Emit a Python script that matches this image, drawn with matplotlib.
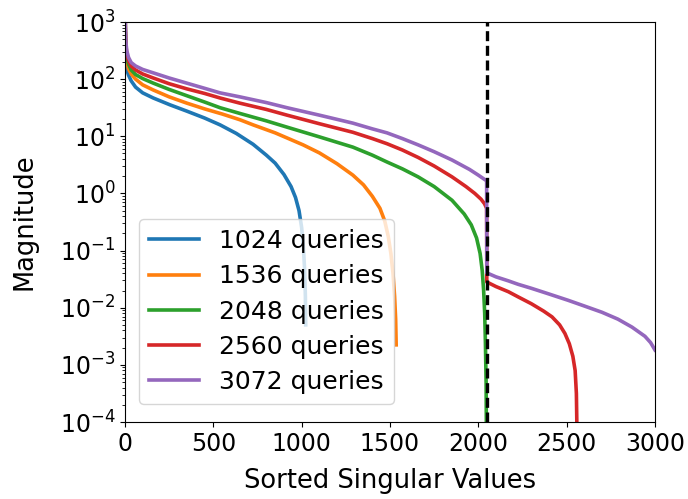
import matplotlib
matplotlib.use("Agg")
import numpy as np
import matplotlib.pyplot as plt

# singular values, kept as log10(magnitude)
x_1024 = [0, 2, 5, 10, 20, 35, 60, 100, 160, 255, 350, 450, 538, 630, 725,
          800, 850, 900, 940, 965, 985, 1000, 1010, 1017, 1021, 1023]
log_1024 = [3.3, 2.7, 2.35, 2.17, 2.07, 1.97, 1.86, 1.76, 1.67, 1.55, 1.44,
            1.32, 1.20, 1.05, 0.86, 0.67, 0.53, 0.33, 0.12, -0.07, -0.3,
            -0.6, -0.95, -1.35, -1.8, -2.3]

x_1536 = [0, 2, 5, 10, 20, 35, 60, 100, 160, 250, 350, 450, 550, 650, 725,
          850, 1008, 1100, 1200, 1290, 1350, 1400, 1443, 1470, 1490, 1505,
          1517, 1526, 1532, 1535]
log_1536 = [3.3, 2.8, 2.47, 2.3, 2.18, 2.09, 2.0, 1.9, 1.81, 1.69, 1.58,
            1.48, 1.39, 1.29, 1.20, 1.06, 0.85, 0.71, 0.52, 0.32, 0.15,
            -0.05, -0.26, -0.48, -0.75, -1.05, -1.4, -1.8, -2.2, -2.65]

x_2048 = [0, 2, 5, 10, 20, 35, 60, 100, 160, 250, 350, 450, 538, 650, 800,
          917, 1100, 1290, 1400, 1483, 1570, 1659, 1750, 1851, 1920, 1960,
          1990, 2010, 2022, 2030, 2036, 2040, 2044, 2047]
log_2048 = [3.3, 2.85, 2.55, 2.38, 2.26, 2.16, 2.08, 2.01, 1.93, 1.82, 1.71,
            1.60, 1.50, 1.40, 1.27, 1.16, 0.99, 0.81, 0.67, 0.55, 0.43, 0.29,
            0.12, -0.12, -0.36, -0.55, -0.78, -1.05, -1.35, -1.7, -2.1, -2.6,
            -3.3, -5.0]

x_2560 = [0, 2, 5, 10, 20, 35, 60, 100, 160, 250, 350, 450, 538, 650, 800,
          917, 1100, 1290, 1400, 1483, 1570, 1659, 1750, 1851, 1930, 1980,
          2015, 2035, 2047, 2048, 2100, 2170, 2225, 2300, 2370, 2417, 2460,
          2490, 2515, 2535, 2548, 2555, 2559]
log_2560 = [3.3, 2.9, 2.6, 2.44, 2.32, 2.23, 2.16, 2.09, 2.02, 1.92, 1.83,
            1.75, 1.67, 1.58, 1.47, 1.37, 1.22, 1.07, 0.96, 0.87, 0.76, 0.63,
            0.48, 0.29, 0.12, 0.0, -0.1, -0.18, -0.26, -1.55, -1.63, -1.72,
            -1.81, -1.93, -2.06, -2.16, -2.3, -2.45, -2.63, -2.85, -3.1,
            -3.5, -4.3]

x_3072 = [0, 2, 5, 10, 20, 35, 60, 100, 160, 250, 350, 450, 538, 650, 800,
          917, 1100, 1290, 1400, 1483, 1570, 1659, 1750, 1851, 1950, 2000,
          2047, 2048, 2100, 2170, 2225, 2300, 2400, 2508, 2600, 2700, 2790,
          2870, 2943, 2975, 3000]
log_3072 = [3.3, 2.95, 2.65, 2.5, 2.38, 2.29, 2.23, 2.17, 2.11, 2.02, 1.93,
            1.84, 1.76, 1.69, 1.59, 1.50, 1.37, 1.23, 1.13, 1.06, 0.96, 0.85,
            0.73, 0.585, 0.42, 0.32, 0.22, -1.39, -1.46, -1.53, -1.59, -1.66,
            -1.76, -1.87, -1.97, -2.08, -2.2, -2.34, -2.5, -2.61, -2.74]

series = [
    (x_1024, log_1024, "1024 queries"),
    (x_1536, log_1536, "1536 queries"),
    (x_2048, log_2048, "2048 queries"),
    (x_2560, log_2560, "2560 queries"),
    (x_3072, log_3072, "3072 queries"),
]
colors = ["#1f77b4", "#ff7f0e", "#2ca02c", "#d62728", "#9467bd"]
hidden_dim = 2048

tick_size = 17
label_size = 18.5
legend_size = 18

fig = plt.figure(figsize=(6.88, 4.99), dpi=100)
ax = fig.add_axes([125 / 688, 1 - 422 / 499, 530 / 688, 400 / 499])

for (xs, logs, label), color in zip(series, colors):
    ax.plot(xs, 10.0 ** np.array(logs), color=color, linewidth=2.6, label=label)

ax.axvline(hidden_dim, color="black", linestyle="--", linewidth=2.4, dashes=(3, 1.4))

ax.set_yscale("log")
ax.set_xlim(0, 3000)
ax.set_ylim(1e-4, 1e3)
ax.set_xticks([0, 500, 1000, 1500, 2000, 2500, 3000])
ax.tick_params(axis="both", which="major", labelsize=tick_size)

ax.set_xlabel("Sorted Singular Values", fontsize=label_size, labelpad=9)
ax.set_ylabel("Magnitude", fontsize=label_size)
ax.yaxis.set_label_coords(-0.165, 0.5)

ax.legend(loc="lower left", fontsize=legend_size, handlelength=2.0,
          labelspacing=0.45, borderaxespad=0,
          bbox_to_anchor=(0.026, 0.045))

fig.savefig("out.png", dpi=100)
